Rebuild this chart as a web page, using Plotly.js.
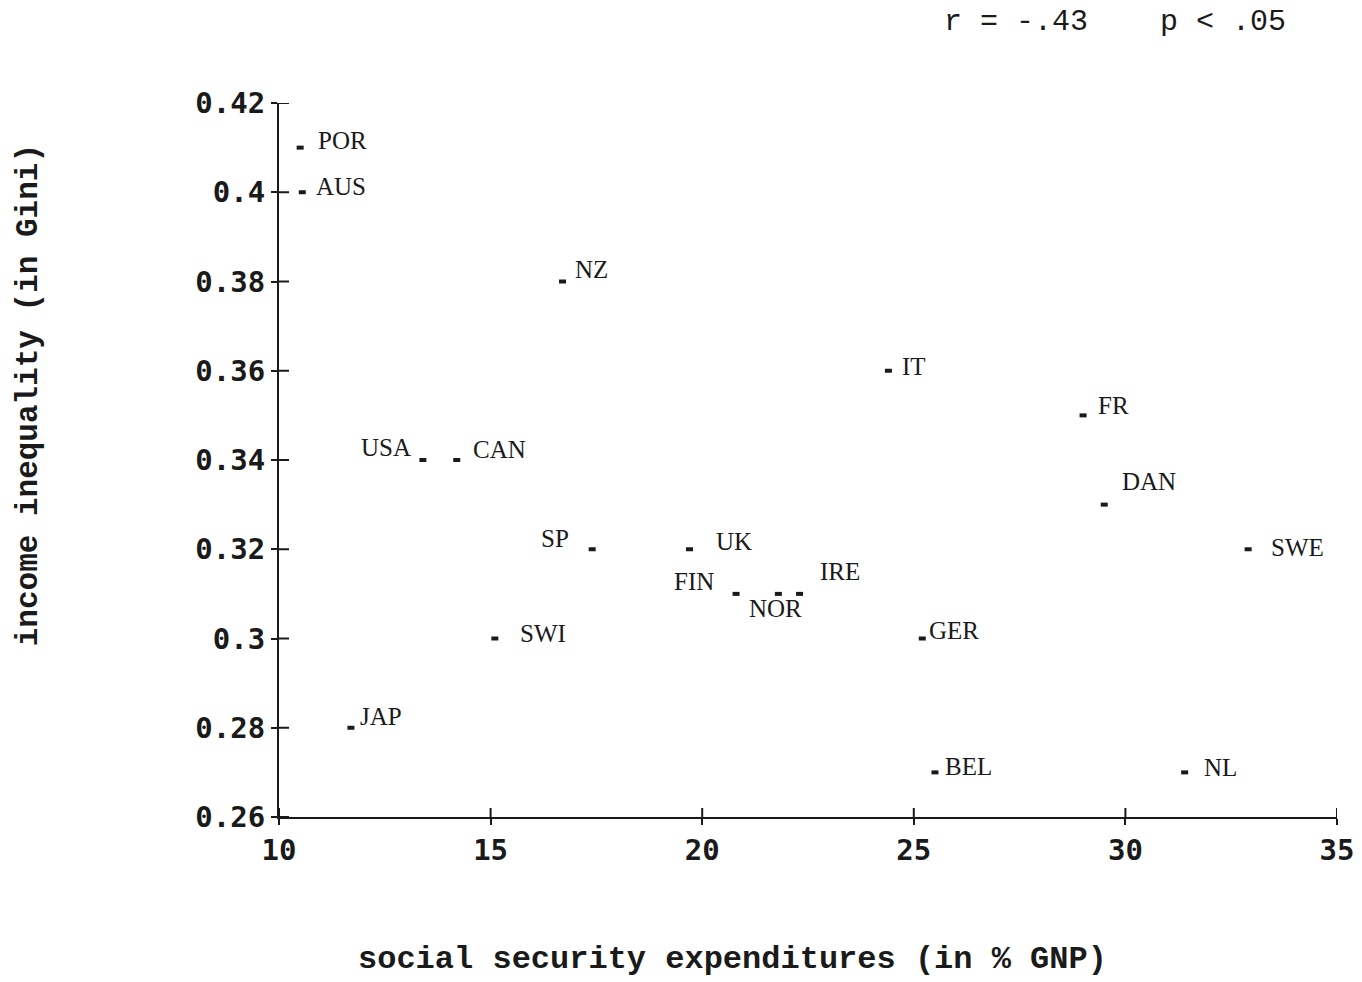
<!DOCTYPE html>
<html>
<head>
<meta charset="utf-8">
<script src="https://cdn.plot.ly/plotly-3.0.1.min.js"></script>
<style>html,body{margin:0;padding:0;background:#fff;}#chart{width:1362px;height:982px;}</style>
</head>
<body>
<div id="chart"></div>
<script>
// Data
const countries = ["POR","AUS","NZ","IT","FR","USA","CAN","DAN","SP","UK","SWE","FIN","NOR","IRE","SWI","GER","JAP","BEL","NL"];
const socialSecurity = [10.5,10.55,16.7,24.4,29.0,13.4,14.2,29.5,17.4,19.7,32.9,20.8,21.8,22.3,15.1,25.2,11.7,25.5,31.4];
const giniIndex = [0.41,0.40,0.38,0.36,0.35,0.34,0.34,0.33,0.32,0.32,0.32,0.31,0.31,0.31,0.30,0.30,0.28,0.27,0.27];
const xTickVals = [10,15,20,25,30,35];
const xTickText = ["10","15","20","25","30","35"];
const yTickVals = [0.26,0.28,0.30,0.32,0.34,0.36,0.38,0.40,0.42];
const yTickText = ["0.26","0.28","0.3","0.32","0.34","0.36","0.38","0.4","0.42"];
const statText = "r\u00a0=\u00a0-.43\u00a0\u00a0\u00a0\u00a0p\u00a0<\u00a0.05";
const xTitle = "social security expendit\u200bures (in % GNP)".replace("\u200b", "");
const yTitle = "income inequality (in Gini)";

// label pixel offsets (style)
const labelShift = {
  POR:[42,7], AUS:[39,6], NZ:[29,12], IT:[26,4], FR:[30,10], USA:[-37,13], CAN:[43,11],
  DAN:[45,23], SP:[-37,11], UK:[44,8], SWE:[49,2], FIN:[-42,12], NOR:[-3,-15], IRE:[40,22],
  SWI:[48,5], GER:[32,8], JAP:[30,11], BEL:[34,6], NL:[36,5]
};

const ink = "#1a1a1a";
const tickFont = {family: "DejaVu Sans Mono", size: 29, color: ink, weight: "bold"};
const labelFont = {family: "Liberation Serif, Times New Roman, serif", size: 25, color: ink};
const monoFont = "Liberation Mono, Courier New, monospace";

const traces = [
  {
    x: socialSecurity, y: giniIndex, mode: "markers", type: "scatter",
    marker: {symbol: "line-ew", size: 5, color: ink, line: {width: 4, color: ink}},
    hoverinfo: "text", text: countries, showlegend: false
  }
];

const annotations = countries.map((c, i) => ({
  x: socialSecurity[i], y: giniIndex[i], xref: "x", yref: "y",
  text: c, showarrow: false, xanchor: "center", yanchor: "middle",
  xshift: labelShift[c][0], yshift: labelShift[c][1], font: labelFont
}));
annotations.push({
  xref: "paper", yref: "paper", x: 0.79, y: 1.113, text: statText, showarrow: false,
  xanchor: "center", yanchor: "middle",
  font: {family: monoFont, size: 30, color: ink}
});
annotations.push({
  xref: "paper", yref: "paper", x: 0.429, y: -0.2, text: xTitle, showarrow: false,
  xanchor: "center", yanchor: "middle",
  font: {family: monoFont, size: 32, color: ink, weight: "bold"}
});
annotations.push({
  xref: "paper", yref: "paper", x: -0.237, y: 0.591, text: yTitle, showarrow: false,
  textangle: -90, xanchor: "center", yanchor: "middle",
  font: {family: monoFont, size: 31, color: ink, weight: "bold"}
});

// crossing tick marks, positioned by the axes' own scales
const shapes = [];
xTickVals.forEach(v => shapes.push({
  type: "line", xref: "x", yref: "y", ysizemode: "pixel", yanchor: yTickVals[0],
  x0: v, x1: v, y0: -8, y1: 9, line: {color: ink, width: 2}
}));
yTickVals.forEach(v => shapes.push({
  type: "line", xref: "x", yref: "y", xsizemode: "pixel", xanchor: xTickVals[0],
  y0: v, y1: v, x0: -8, x1: 10, line: {color: ink, width: 2}
}));

const axisCommon = {showgrid: false, zeroline: false, showline: true, linecolor: ink, linewidth: 2,
  tickcolor: ink, tickwidth: 2, ticklen: 6};

const layout = {
  width: 1362, height: 982,
  margin: {l: 279, r: 25, t: 103, b: 165},
  paper_bgcolor: "#ffffff", plot_bgcolor: "#ffffff",
  showlegend: false,
  xaxis: Object.assign({}, axisCommon, {
    range: [10, 35], tickmode: "array", tickvals: xTickVals, ticktext: xTickText,
    ticks: "outside", tickfont: tickFont
  }),
  yaxis: Object.assign({}, axisCommon, {
    range: [0.26, 0.42], tickmode: "array", tickvals: yTickVals, ticktext: yTickText,
    ticks: "outside", tickfont: tickFont, ticklabelstandoff: 0
  }),
  shapes: shapes,
  annotations: annotations
};

Plotly.newPlot("chart", traces, layout, {displayModeBar: false, staticPlot: true});
</script>
</body>
</html>
